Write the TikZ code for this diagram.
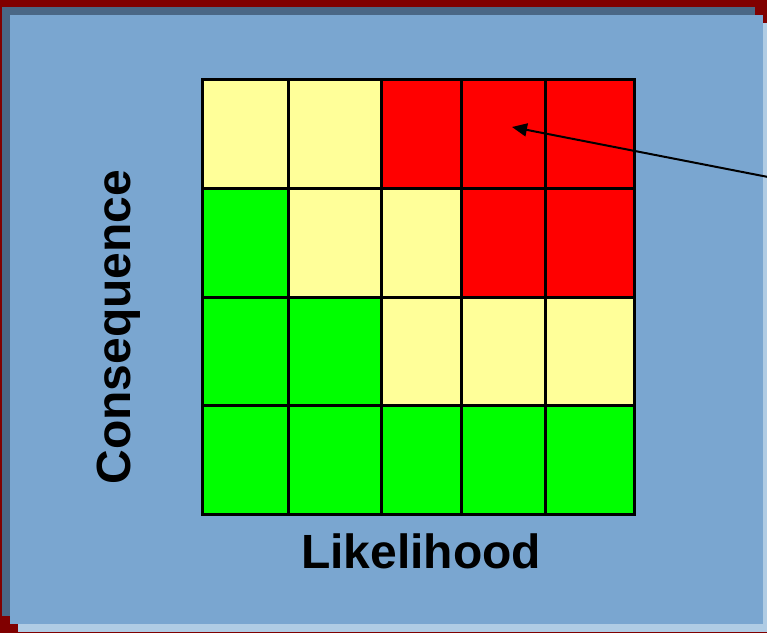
\documentclass[tikz,border=0pt]{standalone}
\usepackage{fontspec}
\setmainfont{Liberation Sans}
\usetikzlibrary{arrows.meta}
\definecolor{darkred}{RGB}{128,0,0}
\definecolor{slate}{RGB}{74,103,133}
\definecolor{mainblue}{RGB}{122,166,208}
\definecolor{shadowblue}{RGB}{176,204,228}
\definecolor{cy}{RGB}{255,255,153}
\definecolor{cg}{RGB}{0,255,0}
\definecolor{cr}{RGB}{255,0,0}
\tikzset{
  cell/.style={draw=black, line width=3pt, inner sep=0pt, outer sep=0pt},
  axislabel/.style={font=\bfseries\fontsize{48}{50}\selectfont, inner sep=0pt},
  pointer/.style={draw=black, line width=2pt, -{Triangle[length=15pt,width=13pt]}}
}
\begin{document}
\begin{tikzpicture}[x=1pt,y=1pt]
\useasboundingbox (0,0) rectangle (767,633);
% background panels
\fill[darkred] (0,0) rectangle (767,633);
\fill[slate] (2,633-7) rectangle (755,633-616);
\fill[shadowblue] (18,633-23) rectangle (767,633-632);
\fill[mainblue] (10,633-15) rectangle (763,633-624);
% grid
\def\xs{{202,288,381,461,545,634}}
\def\ys{{80,188,297,405,514}}
\foreach \r/\cols in {1/{cy,cy,cr,cr,cr},2/{cg,cy,cy,cr,cr},3/{cg,cg,cy,cy,cy},4/{cg,cg,cg,cg,cg}}{
  \foreach \col [count=\c] in \cols {
    \pgfmathsetmacro{\xa}{\xs[\c-1]}
    \pgfmathsetmacro{\xb}{\xs[\c]}
    \pgfmathsetmacro{\ya}{633-\ys[\r-1]}
    \pgfmathsetmacro{\yb}{633-\ys[\r]}
    \node[cell, fill=\col, minimum width={\xb-\xa}, minimum height={\ya-\yb}, anchor=south west] (c\r\c) at (\xa,\yb) {};
  }
}
% labels
\node[axislabel] (like) at (421,633-551) {Likelihood};
\node[axislabel, rotate=90] (cons) at (119,633-327) {Consequence};
% pointer
\coordinate (ptrstart) at (768,633-177);
\coordinate (ptrtip) at (512,633-127);
\draw[pointer] (ptrstart) -- (ptrtip);
\end{tikzpicture}
\end{document}
